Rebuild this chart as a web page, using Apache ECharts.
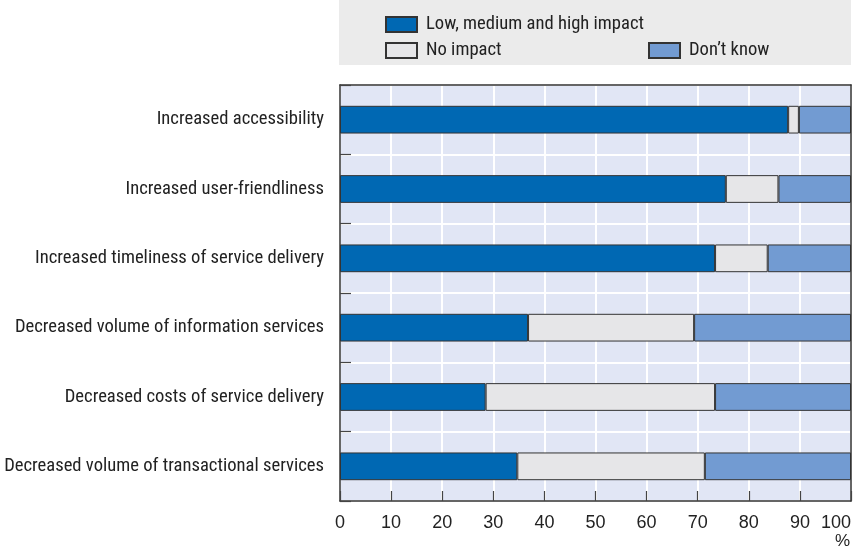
<!DOCTYPE html>
<html>
<head>
<meta charset="utf-8">
<script src="https://cdn.jsdelivr.net/npm/echarts@6/dist/echarts.min.js"></script>
<style>
  html, body { margin: 0; padding: 0; background: #fff; }
  #chart { width: 853px; height: 550px; }
</style>
</head>
<body>
<div id="chart"></div>
<script>
// Survey: impact of e-government services (shares of respondents, %)
const categories = [
  'Increased accessibility',
  'Increased user-friendliness',
  'Increased timeliness of service delivery',
  'Decreased volume of information services',
  'Decreased costs of service delivery',
  'Decreased volume of transactional services'
];
const seriesNames = ['Low, medium and high impact', 'No impact', 'Don\u2019t know'];
const impactValues   = [87.7, 75.5, 73.4, 36.8, 28.5, 34.7];
const noImpactValues = [2.1, 10.3, 10.3, 32.5, 44.9, 36.7];
const dontKnowValues = [10.2, 14.2, 16.3, 30.7, 26.6, 28.6];
const xTicks = [0, 10, 20, 30, 40, 50, 60, 70, 80, 90, 100];

const FONT = '"Roboto Condensed", "Liberation Sans Narrow", "Arial Narrow", sans-serif';
const NUM_FONT = '"Liberation Sans", Arial, sans-serif';
const colors = ['#0068B3', '#E6E6E8', '#729BD2'];
const valuesList = [impactValues, noImpactValues, dontKnowValues];
const FRAME = '#333333';

const chart = echarts.init(document.getElementById('chart'), null, { renderer: 'canvas' });

const series = seriesNames.map((name, i) => ({
  name: name,
  type: 'bar',
  stack: 'total',
  barWidth: '40%',
  data: valuesList[i],
  itemStyle: { color: colors[i], borderColor: FRAME, borderWidth: 1 },
  emphasis: { disabled: true }
}));

const legendBase = {
  itemWidth: 31,
  itemHeight: 15,
  itemGap: 0,
  padding: 0,
  icon: 'rect',
  textStyle: { fontFamily: FONT, fontSize: 18.6, color: '#222', padding: [0, 0, 0, 4] }
};

chart.setOption({
  animation: false,
  color: colors,
  graphic: [
    { type: 'rect', left: 339, top: 0, shape: { width: 512, height: 65 }, style: { fill: '#EBEBEB' }, z: -10 },
    { type: 'text', right: 3, top: 533, style: { text: '%', font: '17px ' + NUM_FONT, fill: '#222' } }
  ],
  legend: [
    Object.assign({}, legendBase, { data: [seriesNames[0]], left: 385, top: 15 }),
    Object.assign({}, legendBase, { data: [seriesNames[1]], left: 385, top: 41 }),
    Object.assign({}, legendBase, { data: [seriesNames[2]], left: 648, top: 41 })
  ],
  grid: {
    left: 340, right: 2, top: 85, bottom: 49,
    containLabel: false,
    outerBoundsMode: 'none',
    show: true,
    backgroundColor: '#E1E6F5',
    borderColor: FRAME,
    borderWidth: 0
  },
  xAxis: [{
    type: 'value',
    min: 0, max: 100, interval: 10,
    axisLine: { show: true, lineStyle: { color: FRAME, width: 1.5 } },
    axisTick: { show: true, inside: true, length: 10, lineStyle: { color: '#444', width: 1.2 } },
    splitLine: { show: true, lineStyle: { color: '#FFFFFF', width: 2 } },
    axisLabel: {
      fontFamily: NUM_FONT, fontSize: 18, color: '#222', margin: 13,
      alignMaxLabel: 'right',
      formatter: v => (xTicks.indexOf(v) >= 0 ? String(v) : '')
    }
  }, {
    // top edge of the plot frame
    type: 'value', position: 'top', min: 0, max: 100,
    axisLine: { show: true, onZero: false, lineStyle: { color: FRAME, width: 1.5 } },
    axisTick: { show: false }, axisLabel: { show: false }, splitLine: { show: false }
  }],
  yAxis: [{
    type: 'category',
    inverse: true,
    data: categories,
    axisLine: { show: true, onZero: false, lineStyle: { color: FRAME, width: 1.5 } },
    axisTick: { show: true, inside: true, length: 11, lineStyle: { color: '#444', width: 1.2 } },
    splitLine: { show: true, lineStyle: { color: '#FFFFFF', width: 2 } },
    axisLabel: { fontFamily: FONT, fontSize: 18.6, color: '#222', margin: 16 }
  }, {
    // right edge of the plot frame
    type: 'category', position: 'right', inverse: true, data: categories,
    axisLine: { show: true, onZero: false, lineStyle: { color: FRAME, width: 1.5 } },
    axisTick: { show: false }, axisLabel: { show: false }, splitLine: { show: false }
  }],
  series: series
});
</script>
</body>
</html>
